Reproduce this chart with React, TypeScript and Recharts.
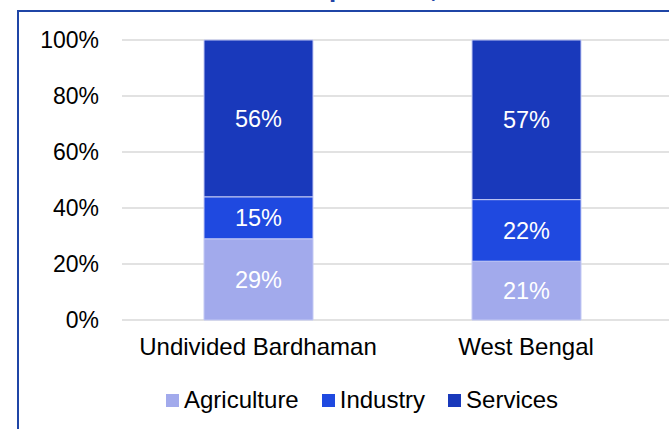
import { BarChart, Bar, XAxis, YAxis, CartesianGrid, Legend, LabelList } from 'recharts'

const regions = ['Undivided Bardhaman', 'West Bengal']
const agriculture = [29, 21]
const industry = [15, 22]
const services = [56, 57]
const yTicks = [0, 20, 40, 60, 80, 100]

const series = [
  { key: 'agriculture', name: 'Agriculture', color: '#a2aaec' },
  { key: 'industry', name: 'Industry', color: '#1f49e0' },
  { key: 'services', name: 'Services', color: '#1939bb' },
]

const data = regions.map((region, i) => ({
  region,
  agriculture: agriculture[i],
  industry: industry[i],
  services: services[i],
}))

const FONT = '"Liberation Sans", Arial, sans-serif'

function pct(v: number): string {
  return `${v}%`
}

function LegendContent() {
  return (
    <div style={{ display: 'flex', alignItems: 'center', fontFamily: FONT, fontSize: 24, color: '#000', height: 40 }}>
      {series.map((s, i) => (
        <div key={s.key} style={{ display: 'flex', alignItems: 'center', marginLeft: i === 0 ? 0 : 23 }}>
          <span style={{ width: 13, height: 13, background: s.color, display: 'inline-block', marginRight: 5 }} />
          <span>{s.name}</span>
        </div>
      ))}
    </div>
  )
}

export default function App() {
  return (
    <div style={{ position: 'absolute', left: 0, top: 0, width: 669, height: 429, overflow: 'hidden', background: '#fff' }}>
      <div style={{ position: 'absolute', left: 0, top: -27, width: 669, textAlign: 'center', fontFamily: FONT, fontWeight: 700, fontSize: 26, color: '#1f45a6', paddingLeft: 80, boxSizing: 'border-box' }}>
        GVA Composition, 2011-12
      </div>
      <div style={{ position: 'absolute', left: 17, top: 10, width: 700, height: 440, borderLeft: '2px solid #1f45a6', borderTop: '2px solid #1f45a6' }} />
      <div style={{ position: 'absolute', left: 0, top: 0 }}>
        <BarChart width={700} height={429} data={data} margin={{ top: 40, right: 0, left: 0, bottom: 0 }}>
          <CartesianGrid vertical={false} stroke="#d9d9d9" strokeWidth={1.5} />
          <XAxis
            dataKey="region"
            axisLine={false}
            tickLine={false}
            tickSize={0}
            tickMargin={18}
            height={69}
            padding={{ left: 2, right: 40 }}
            tick={{ fontSize: 24, fill: '#000', fontFamily: FONT }}
            interval={0}
          />
          <YAxis
            domain={[0, 100]}
            ticks={yTicks}
            tickFormatter={pct}
            axisLine={false}
            tickLine={false}
            tickSize={0}
            tickMargin={23}
            width={122}
            tick={{ fontSize: 23, fill: '#000', fontFamily: FONT }}
          />
          <Legend
            verticalAlign="bottom"
            align="left"
            height={40}
            content={LegendContent}
            wrapperStyle={{ left: 166, bottom: 9, width: 'auto' }}
          />
          {series.map(s => (
            <Bar
              key={s.key}
              dataKey={s.key}
              name={s.name}
              stackId="a"
              fill={s.color}
              stroke="#c3c9f4"
              strokeWidth={1}
              barSize={109}
              isAnimationActive={false}
            >
              <LabelList dataKey={s.key} position="center" formatter={pct} fill="#fff" fontSize={23.5} fontFamily={FONT} />
            </Bar>
          ))}
        </BarChart>
      </div>
    </div>
  )
}
